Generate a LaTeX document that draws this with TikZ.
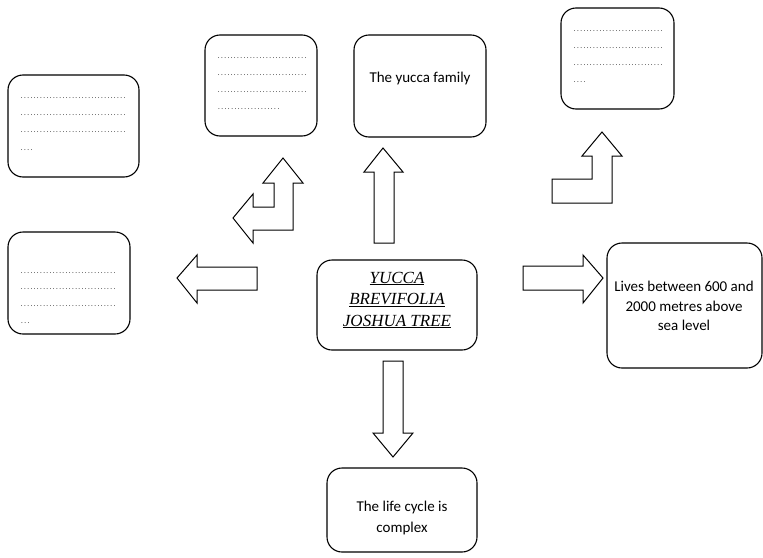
\documentclass[tikz,border=0pt]{standalone}
\usepackage{fontspec}
\setmainfont{Carlito}
\newfontfamily\titlefont{Liberation Serif}
\newcommand\dotrow[1]{\hbox to #1{\xleaders\hbox to 3.2pt{\hss.\hss}\hfill}}
\begin{document}
\begin{tikzpicture}[x=1pt,y=-1pt,
  box/.style={draw, line width=1.1pt, rounded corners=15pt, inner sep=0pt},
  txt/.style={font=\fontsize{15}{19.5}\selectfont, align=center, inner sep=0pt},
  dots/.style={font=\fontsize{7}{7}\selectfont, anchor=west, inner sep=0pt},
  blk/.style={draw, line width=1pt, line join=miter, fill=white}]
\useasboundingbox (0,0) rectangle (763,557);
% boxes
\node[box, minimum width=131pt, minimum height=102pt] (A) at (73.5,126) {};
\node[box, minimum width=122pt, minimum height=102pt] (B) at (69,283) {};
\node[box, minimum width=112pt, minimum height=101pt] (C) at (261,85.5) {};
\node[box, minimum width=132pt, minimum height=102pt] (D) at (420,86) {};
\node[box, minimum width=113pt, minimum height=101pt] (E) at (617.5,58.5) {};
\node[box, minimum width=160pt, minimum height=90pt] (F) at (397,305) {};
\node[box, minimum width=155pt, minimum height=125pt] (G) at (684.5,305.5) {};
\node[box, minimum width=150pt, minimum height=84pt] (H) at (402,510) {};
% texts
\node[txt] (Dt) at (420,78) {The yucca family};
\node[txt, font=\titlefont\itshape\fontsize{17}{21.5}\selectfont] (Ft) at (397,300)
  {\underline{YUCCA}\\\underline{BREVIFOLIA}\\\underline{JOSHUA TREE}};
\node[txt] (Gt) at (684,306) {Lives between 600 and\\2000 metres above\\sea level};
\node[txt, font=\fontsize{15}{21}\selectfont] (Ht) at (402,517.5) {The life cycle is\\complex};
% dotted lines
\node[dots] (A1) at (20,98) {\dotrow{106pt}};
\node[dots] (A2) at (20,115) {\dotrow{106pt}};
\node[dots] (A3) at (20,132) {\dotrow{106pt}};
\node[dots] (A4) at (20,150) {\dotrow{13pt}};
\node[dots] (B1) at (20,273) {\dotrow{96pt}};
\node[dots] (B2) at (20,289) {\dotrow{96pt}};
\node[dots] (B3) at (20,306) {\dotrow{96pt}};
\node[dots] (B4) at (20,323) {\dotrow{10pt}};
\node[dots] (C1) at (217,58) {\dotrow{90pt}};
\node[dots] (C2) at (217,75) {\dotrow{90pt}};
\node[dots] (C3) at (217,92) {\dotrow{90pt}};
\node[dots] (C4) at (217,109) {\dotrow{63pt}};
\node[dots] (E1) at (573,31) {\dotrow{90pt}};
\node[dots] (E2) at (573,48) {\dotrow{90pt}};
\node[dots] (E3) at (573,65) {\dotrow{90pt}};
\node[dots] (E4) at (573,82) {\dotrow{13pt}};
% block arrows
\draw[blk] (283,158) -- (303,183) -- (293,183) -- (293,230) -- (253,230) -- (253,243)
  -- (233,218) -- (253,194) -- (253,207) -- (274,207) -- (274,183) -- (263,183) -- cycle;
\draw[blk] (177,278) -- (197,255) -- (197,267) -- (257,267) -- (257,290) -- (197,290) -- (197,303) -- cycle;
\draw[blk] (383,148) -- (403,172) -- (394,172) -- (394,243) -- (374,243) -- (374,172) -- (364,172) -- cycle;
\draw[blk] (602,132) -- (622,156) -- (612,156) -- (612,203) -- (552,203) -- (552,179) -- (592,179) -- (592,156) -- (582,156) -- cycle;
\draw[blk] (603,278) -- (583,303) -- (583,290) -- (523,290) -- (523,266) -- (583,266) -- (583,255) -- cycle;
\draw[blk] (393,457) -- (413,433) -- (403,433) -- (403,361) -- (383,361) -- (383,433) -- (373,433) -- cycle;
\end{tikzpicture}
\end{document}
